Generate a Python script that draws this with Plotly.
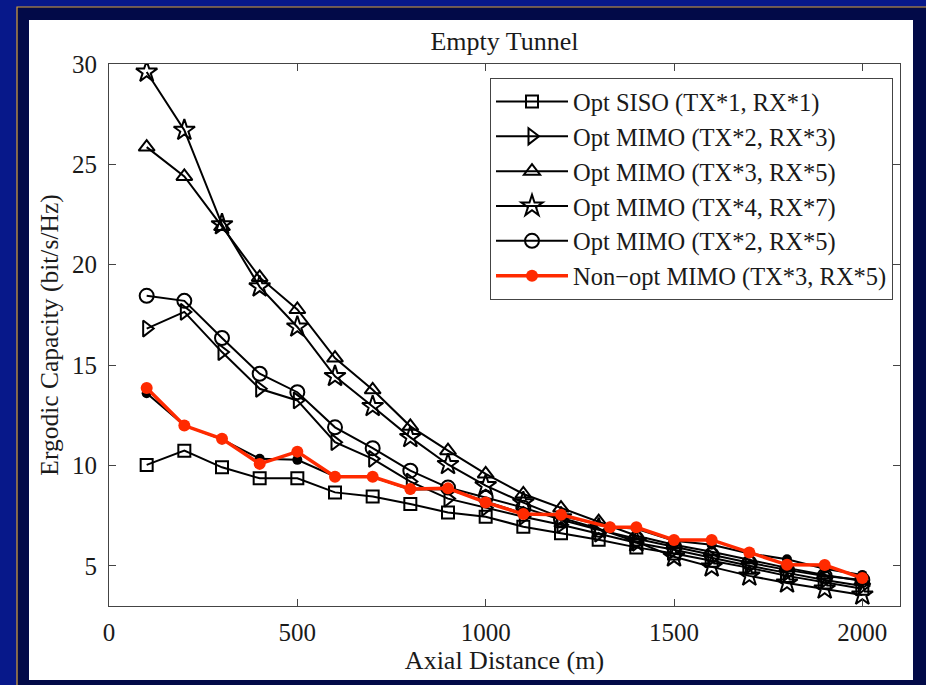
import plotly.graph_objects as go

# Axial distance samples (m)
distance = [100, 200, 300, 400, 500, 600, 700, 800, 900, 1000,
            1100, 1200, 1300, 1400, 1500, 1600, 1700, 1800, 1900, 2000]
distance_nonopt = [100, 200, 300, 400, 500, 600, 700, 800, 900, 1000,
                   1100, 1200, 1330, 1400, 1500, 1600, 1700, 1800, 1900, 2000]

# Ergodic capacity (bit/s/Hz)
siso_1x1 = [10.03, 10.74, 9.91, 9.36, 9.36, 8.66, 8.46, 8.08, 7.66, 7.45,
            6.95, 6.62, 6.30, 5.92, 5.62, 5.25, 4.90, 4.50, 4.17, 3.86]
mimo_2x3 = [16.82, 17.65, 15.65, 13.82, 13.24, 11.16, 10.33, 9.20, 8.35, 7.90,
            7.45, 7.05, 6.60, 6.15, 5.80, 5.40, 5.00, 4.65, 4.30, 4.00]
mimo_3x5 = [25.86, 24.40, 21.90, 19.37, 17.77, 15.35, 13.77, 11.95, 10.74, 9.58,
            8.58, 7.88, 7.20, 6.50, 6.05, 5.70, 5.30, 4.90, 4.55, 4.25]
mimo_4x7 = [29.60, 26.70, 22.00, 18.90, 16.90, 14.44, 12.94, 11.40, 10.05, 9.00,
            8.15, 7.40, 6.85, 6.20, 5.45, 4.95, 4.50, 4.15, 3.85, 3.55]
mimo_2x5 = [18.45, 18.20, 16.35, 14.57, 13.65, 11.90, 10.86, 9.74, 8.90, 8.40,
            7.90, 7.30, 6.80, 6.35, 5.95, 5.55, 5.15, 4.80, 4.50, 4.30]
nonopt_3x5 = [13.86, 11.99, 11.33, 10.08, 10.69, 9.44, 9.44, 8.83, 8.86, 8.16,
              7.58, 7.55, 6.92, 6.92, 6.29, 6.29, 5.67, 5.05, 5.04, 4.39]
nonopt_3x5_ref = [13.60, 12.00, 11.30, 10.33, 10.28, 9.45, 9.42, 8.80, 8.82, 8.20,
                  7.60, 7.50, 6.95, 6.85, 6.25, 6.05, 5.62, 5.33, 4.86, 4.55]

series = [
    ("Opt SISO (TX*1, RX*1)", siso_1x1, "square-open", 12),
    ("Opt MIMO (TX*2, RX*3)", mimo_2x3, "triangle-right-open", 14),
    ("Opt MIMO (TX*3, RX*5)", mimo_3x5, "triangle-up-open", 14),
    ("Opt MIMO (TX*4, RX*7)", mimo_4x7, "star-open", 16),
    ("Opt MIMO (TX*2, RX*5)", mimo_2x5, "circle-open", 14),
]

SERIF = "Liberation Serif, Times New Roman, serif"
INK = "#1a1a1a"

fig = go.Figure()

# black reference run of the non-optimised array, sitting under the red curve
fig.add_trace(go.Scatter(
    x=distance_nonopt, y=nonopt_3x5_ref, mode="lines+markers",
    line=dict(color="black", width=2),
    marker=dict(symbol="circle", size=10, color="black"),
    showlegend=False, hoverinfo="skip",
))

for name, vals, sym, size in series:
    fig.add_trace(go.Scatter(
        x=distance, y=vals, name=name, mode="lines+markers",
        line=dict(color="black", width=2),
        marker=dict(symbol=sym, size=size, color="black",
                    line=dict(color="black", width=2)),
    ))

fig.add_trace(go.Scatter(
    x=distance_nonopt, y=nonopt_3x5, name="Non\u2212opt MIMO (TX*3, RX*5)",
    mode="lines+markers",
    line=dict(color="#ff2a00", width=3.5),
    marker=dict(symbol="circle", size=12, color="#ff2a00"),
))

# page geometry (pixels) -> paper coordinates
L, R, T, B = 109, 26, 64, 79
W, H = 926, 685
PW, PH = W - L - R, H - T - B


def px(x):
    return (x - L) / PW


def py(y):
    return (H - B - y) / PH


shapes = [
    # dark slide frame with a thin gold rule
    dict(type="rect", xref="paper", yref="paper", layer="below",
         x0=px(17), x1=px(940), y0=py(700), y1=py(7),
         fillcolor="#020a48", line=dict(color="#d9a23a", width=1.2)),
    # white figure panel
    dict(type="rect", xref="paper", yref="paper", layer="below",
         x0=px(29), x1=px(913), y0=py(680), y1=py(20),
         fillcolor="white", line=dict(width=0)),
]

axis_common = dict(
    showgrid=False, zeroline=False, showline=True, linecolor="#444",
    linewidth=1, mirror="ticks", ticks="inside", ticklen=7,
    tickcolor="#444", tickwidth=1,
    tickfont=dict(family=SERIF, size=25, color=INK),
)

fig.update_layout(
    width=W, height=H,
    margin=dict(l=L, r=R, t=T, b=B, pad=0),
    paper_bgcolor="#07188a",
    plot_bgcolor="white",
    shapes=shapes,
    title=dict(text="Empty Tunnel", x=0.5 * (px(109) + px(900)), xref="paper",
               xanchor="center", y=1 - 41 / H, yanchor="middle",
               font=dict(family=SERIF, size=26, color=INK)),
    xaxis=dict(range=[0, 2100], tickvals=[0, 500, 1000, 1500, 2000],
               ticklabelstandoff=4,
               title=dict(text="Axial Distance (m)", standoff=2,
                          font=dict(family=SERIF, size=26, color=INK)),
               **axis_common),
    yaxis=dict(range=[3, 30], tickvals=[5, 10, 15, 20, 25, 30],
               ticklabelstandoff=6,
               title=dict(text="Ergodic Capacity (bit/s/Hz)", standoff=6,
                          font=dict(family=SERIF, size=25.5, color=INK)),
               **axis_common),
    legend=dict(x=px(893), xanchor="right", y=py(78), yanchor="top",
                bgcolor="white", bordercolor="#444", borderwidth=1,
                font=dict(family=SERIF, size=24.5, color=INK),
                itemwidth=72, tracegroupgap=0),
    showlegend=True,
)

fig.write_html("out.html")
